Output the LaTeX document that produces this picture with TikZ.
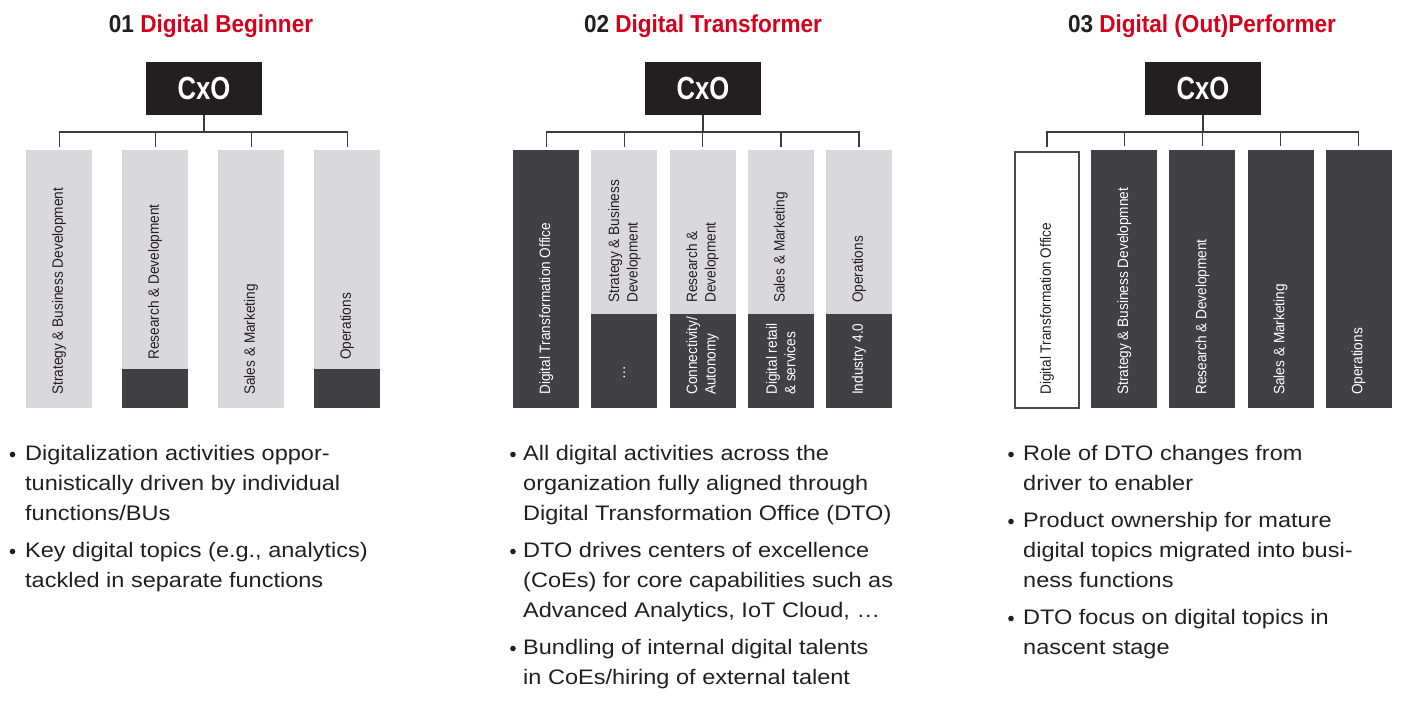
\documentclass[tikz,border=0pt]{standalone}
\usepackage{fontspec}
\setmainfont{Liberation Sans}
\newfontfamily\lblfont[FakeStretch=0.91]{Liberation Sans}
\newfontfamily\bulfont[FakeStretch=1.12]{Liberation Sans}
\newfontfamily\hdfont[FakeStretch=0.92]{Liberation Sans}
\newfontfamily\cxofont[FakeStretch=0.8]{Liberation Sans}
\definecolor{titc}{HTML}{231F20}
\definecolor{pred}{HTML}{D5001C}
\definecolor{cxoc}{HTML}{231F20}
\definecolor{lightc}{HTML}{D9D9DD}
\definecolor{darkc}{HTML}{414044}
\definecolor{linec}{HTML}{3C3C3C}
\definecolor{outc}{HTML}{4A4A4D}
\definecolor{txtc}{HTML}{231F20}
\tikzset{
  hd/.style={inner sep=0pt, font=\hdfont\bfseries\fontsize{24.5}{28}\selectfont},
  cxobox/.style={fill=cxoc, minimum width=116pt, minimum height=53pt, inner sep=0pt, text=white, font=\cxofont\bfseries\fontsize{32}{32}\selectfont},
  conn/.style={draw=linec, line width=1.4pt},
  lightcol/.style={fill=lightc, minimum width=66pt, minimum height=257.7pt, inner sep=0pt, anchor=north west},
  darkcol/.style={fill=darkc, minimum width=66pt, minimum height=257.7pt, inner sep=0pt, anchor=north west},
  whitecol/.style={fill=white, draw=outc, line width=2pt, minimum width=64pt, minimum height=255.7pt, inner sep=0pt, anchor=north west},
  darkpart/.style={fill=darkc, minimum width=66pt, inner sep=0pt, anchor=south west},
  lbl/.style={inner sep=0pt, anchor=west, rotate=90, align=left, font=\lblfont\fontsize{15}{18.5}\selectfont},
  lbld/.style={lbl, text=txtc},
  lblw/.style={lbl, text=white},
  btxt/.style={inner sep=0pt, anchor=base west, text=txtc, font=\bulfont\fontsize{21}{30}\selectfont},
  bdot/.style={circle, fill=txtc, inner sep=0pt, minimum size=5.6pt},
}
\begin{document}
\begin{tikzpicture}[x=1pt,y=-1pt]
\useasboundingbox (0,0) rectangle (1405,706);
% ================= Panel 1 =================
\node[hd, anchor=base] (h1) at (211,32.5) {\textcolor{titc}{01} \textcolor{pred}{Digital Beginner}};
\node[cxobox] (cxoA) at (204,88.5) {CxO};
\node[lightcol] (a1) at (26,150) {};
\node[lightcol] (a2) at (122,150) {};
\node[lightcol] (a3) at (218,150) {};
\node[lightcol] (a4) at (314,150) {};
\node[darkpart, minimum height=38.7pt] (a2d) at (122,407.7) {};
\node[darkpart, minimum height=38.7pt] (a4d) at (314,407.7) {};
\foreach \c in {a1,a2,a3,a4}{
  \draw[conn] (cxoA.south) -- ++(0,17) -| ([yshift=3pt]\c.north);
}
\node[lbld] (a1t) at (59,395) {Strategy \& Business Development};
\node[lbld] (a2t) at (155,360) {Research \& Development};
\node[lbld] (a3t) at (251,395) {Sales \& Marketing};
\node[lbld] (a4t) at (347,360) {Operations};
% bullets
\node[bdot] (p1d1) at (12.5,454.5) {};
\node[btxt] (p1l1) at (25,460) {Digitalization activities oppor-};
\node[btxt] (p1l2) at (25,490) {tunistically driven by individual};
\node[btxt] (p1l3) at (25,520) {functions/BUs};
\node[bdot] (p1d2) at (12.5,551.5) {};
\node[btxt] (p1l4) at (25,557) {Key digital topics (e.g., analytics)};
\node[btxt] (p1l5) at (25,587) {tackled in separate functions};
% ================= Panel 2 =================
\node[hd, anchor=base] (h2) at (703,32.5) {\textcolor{titc}{02} \textcolor{pred}{Digital Transformer}};
\node[cxobox] (cxoB) at (703,88.5) {CxO};
\node[darkcol] (b1) at (513,150) {};
\node[lightcol] (b2) at (591.2,150) {};
\node[lightcol] (b3) at (669.4,150) {};
\node[lightcol] (b4) at (747.6,150) {};
\node[lightcol] (b5) at (825.8,150) {};
\node[darkpart, minimum height=93.4pt] (b2d) at (591.2,407.7) {};
\node[darkpart, minimum height=93.4pt] (b3d) at (669.4,407.7) {};
\node[darkpart, minimum height=93.4pt] (b4d) at (747.6,407.7) {};
\node[darkpart, minimum height=93.4pt] (b5d) at (825.8,407.7) {};
\foreach \c in {b1,b2,b3,b4,b5}{
  \draw[conn] (cxoB.south) -- ++(0,17) -| ([yshift=3pt]\c.north);
}
\node[lblw] (b1t) at (b1.center |- 0,395) {Digital Transformation Office};
\node[lbld] (b2t) at (b2.center |- 0,303) {Strategy \& Business\\Development};
\node[lblw] (b2u) at (b2.center |- 0,380) {…};
\node[lbld] (b3t) at (b3.center |- 0,303) {Research \&\\Development};
\node[lblw] (b3u) at (b3.center |- 0,395) {Connectivity/\\Autonomy};
\node[lbld] (b4t) at (b4.center |- 0,303) {Sales \& Marketing};
\node[lblw] (b4u) at (b4.center |- 0,395) {Digital retail\\\& services};
\node[lbld] (b5t) at (b5.center |- 0,303) {Operations};
\node[lblw] (b5u) at (b5.center |- 0,395) {Industry 4.0};
% bullets
\node[bdot] (p2d1) at (513,454.5) {};
\node[btxt] (p2l1) at (523,460) {All digital activities across the};
\node[btxt] (p2l2) at (523,490) {organization fully aligned through};
\node[btxt] (p2l3) at (523,520) {Digital Transformation Office (DTO)};
\node[bdot] (p2d2) at (513,551.5) {};
\node[btxt] (p2l4) at (523,557) {DTO drives centers of excellence};
\node[btxt] (p2l5) at (523,587) {(CoEs) for core capabilities such as};
\node[btxt] (p2l6) at (523,617) {Advanced Analytics, IoT Cloud, …};
\node[bdot] (p2d3) at (513,648.5) {};
\node[btxt] (p2l7) at (523,654) {Bundling of internal digital talents};
\node[btxt] (p2l8) at (523,684) {in CoEs/hiring of external talent};
% ================= Panel 3 =================
\node[hd, anchor=base] (h3) at (1202,32.5) {\textcolor{titc}{03} \textcolor{pred}{Digital (Out)Performer}};
\node[cxobox] (cxoC) at (1203,88.5) {CxO};
\node[whitecol] (c1) at (1014,151) {};
\node[darkcol] (c2) at (1091.1,150) {};
\node[darkcol] (c3) at (1169.2,150) {};
\node[darkcol] (c4) at (1247.3,150) {};
\node[darkcol] (c5) at (1325.4,150) {};
\foreach \c in {c1,c2,c3,c4,c5}{
  \draw[conn] (cxoC.south) -- ++(0,17) -| ([yshift=4pt]\c.north);
}
\node[lbld] (c1t) at (c1.center |- 0,395) {Digital Transformation Office};
\node[lblw] (c2t) at (c2.center |- 0,395) {Strategy \& Business Developmnet};
\node[lblw] (c3t) at (c3.center |- 0,395) {Research \& Development};
\node[lblw] (c4t) at (c4.center |- 0,395) {Sales \& Marketing};
\node[lblw] (c5t) at (c5.center |- 0,395) {Operations};
% bullets
\node[bdot] (p3d1) at (1011,454.5) {};
\node[btxt] (p3l1) at (1023,460) {Role of DTO changes from};
\node[btxt] (p3l2) at (1023,490) {driver to enabler};
\node[bdot] (p3d2) at (1011,521.5) {};
\node[btxt] (p3l3) at (1023,527) {Product ownership for mature};
\node[btxt] (p3l4) at (1023,557) {digital topics migrated into busi-};
\node[btxt] (p3l5) at (1023,587) {ness functions};
\node[bdot] (p3d3) at (1011,618.5) {};
\node[btxt] (p3l6) at (1023,624) {DTO focus on digital topics in};
\node[btxt] (p3l7) at (1023,654) {nascent stage};
\end{tikzpicture}
\end{document}
